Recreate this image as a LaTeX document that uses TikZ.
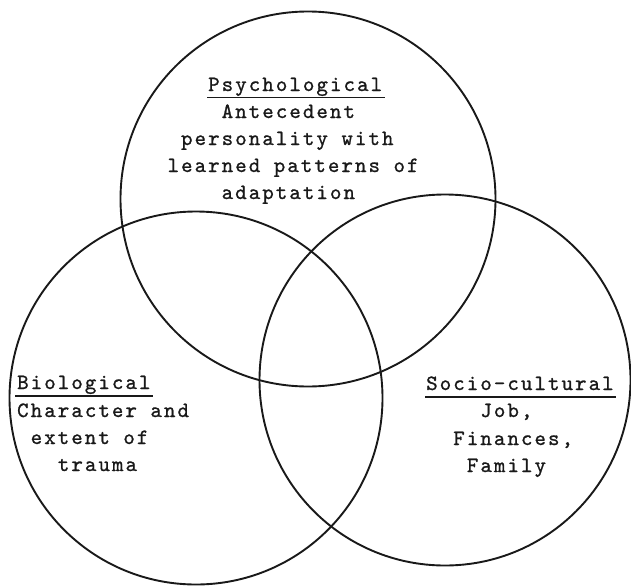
\documentclass[tikz,border=0pt]{standalone}
\usepackage{fontspec}
% typewriter face, letter-spaced to a wide pitch and slightly heavier
\newfontfamily\typewriter{lmmono10-regular.otf}[LetterSpace=9.6,FakeBold=1.0]
\begin{document}
\begin{tikzpicture}[x=1pt,y=-1pt,
    ring/.style={draw=black!90,line width=1.9pt},
    txt/.style={anchor=base west,inner sep=0pt,text=black!90,
      font=\typewriter\fontsize{21.8}{27}\selectfont},
    uline/.style={draw=black!90,line width=1.8pt}]
\useasboundingbox[fill=white] (0,0) rectangle (631,586);

% the three overlapping fields
\draw[ring] (308,199) circle[radius=187.5pt];
\draw[ring] (196,398) circle[radius=186.5pt];
\draw[ring] (445,380) circle[radius=185.5pt];

% psychological field
\node[txt] (psyT)  at (208,91)    {Psychological};
\node[txt] (psyA)  at (221.5,118) {Antecedent};
\node[txt] (psyB)  at (180.9,145) {personality with};
\node[txt] (psyC)  at (167.4,172) {learned patterns of};
\node[txt] (psyD)  at (221.5,199) {adaptation};
\draw[uline] ([shift={(-1pt,-6.5pt)}]psyT.base west) -- ([shift={(3pt,-6.5pt)}]psyT.base east);

% biological field
\node[txt] (bioT)  at (17,389)    {Biological};
\node[txt] (bioA)  at (17,417)    {Character and};
\node[txt] (bioB)  at (30.5,444)  {extent of};
\node[txt] (bioC)  at (57.7,471)  {trauma};
\draw[uline] ([shift={(-2pt,-7pt)}]bioT.base west) -- ([shift={(2.5pt,-7pt)}]bioT.base east);

% socio-cultural field
\node[txt] (socT)  at (426,390)   {Socio-cultural};
\node[txt] (socA)  at (480.2,417) {Job,};
\node[txt] (socB)  at (453.1,445) {Finances,};
\node[txt] (socC)  at (466.7,472) {Family};
\draw[uline] ([shift={(-1pt,-7pt)}]socT.base west) -- ([shift={(2pt,-7pt)}]socT.base east);
\end{tikzpicture}
\end{document}
